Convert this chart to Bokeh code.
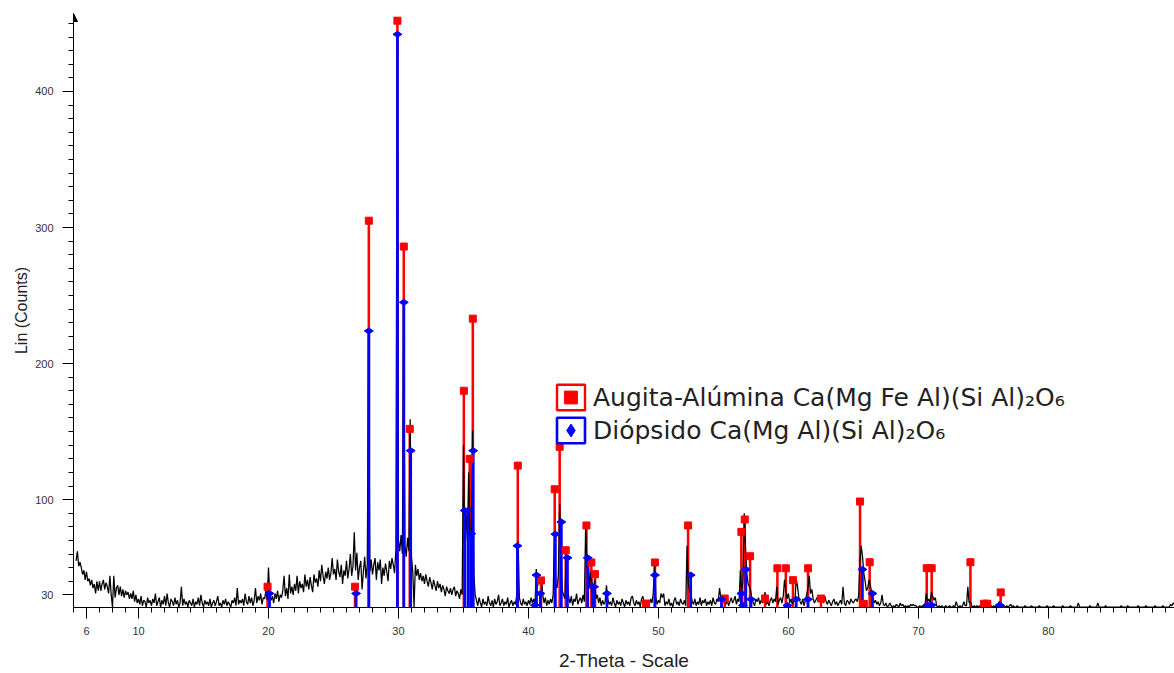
import numpy as np
from bokeh.plotting import figure
from bokeh.models import (Range1d, FixedTicker, Legend, LegendItem,
                          ColumnDataSource, Arrow, NormalHead)
from bokeh.embed import file_html
from bokeh.resources import INLINE

# ---------------- data ----------------
# measured diffractogram: 2-theta grid starts at 5.2 deg, step 0.1 deg
TT_START = 5.2
TT_STEP = 0.1
pattern_counts = [
    55, 62, 51, 54, 50, 45, 48, 41,                      # 5.2-5.9
    47, 40, 42, 37, 41, 35, 38, 31, 40, 33,              # 6
    40, 33, 38, 41, 34, 39, 36, 31, 44, 30,              # 7
    21, 44, 28, 35, 37, 30, 36, 29, 34, 28,              # 8
    33, 30, 32, 27, 31, 27, 33, 25, 30, 24,              # 9
    27, 23, 29, 22, 26, 25, 21, 28, 24, 26,              # 10
    22, 27, 24, 31, 22, 25, 28, 21, 26, 23,              # 11
    29, 22, 31, 24, 21, 27, 25, 22, 28, 23,              # 12
    26, 21, 24, 36, 22, 27, 23, 25, 21, 26,              # 13
    24, 22, 27, 21, 25, 23, 28, 22, 30, 24,              # 14
    21, 26, 23, 25, 22, 27, 21, 24, 26, 22,              # 15
    25, 29, 22, 24, 21, 26, 23, 27, 22, 25,              # 16
    23, 21, 26, 24, 28, 22, 35, 23, 26, 24,              # 17
    27, 22, 31, 25, 23, 29, 24, 28, 22, 26,              # 18
    35, 24, 29, 26, 31, 23, 28, 27, 33, 26,              # 19
    50, 30, 26, 29, 24, 31, 27, 33, 25, 30,              # 20
    28, 33, 44, 29, 35, 27, 45, 31, 36, 30,              # 21
    38, 33, 44, 31, 40, 35, 38, 32, 45, 36,              # 22
    41, 34, 43, 37, 32, 45, 39, 42, 36, 48,              # 23
    40, 52, 44, 38, 47, 42, 50, 41, 46, 57,              # 24
    45, 49, 41, 56, 47, 43, 52, 38, 48, 44,              # 25
    55, 42, 49, 60, 44, 51, 76, 48, 61, 41,              # 26
    50, 55, 34, 47, 58, 42, 52, 220, 47, 56,             # 27
    45, 52, 57, 41, 54, 48, 56, 38, 50, 44,              # 28
    53, 47, 40, 55, 49, 57, 52, 46, 63, 440,             # 29
    70, 62, 74, 60, 242, 66, 58, 72, 62, 159,            # 30
    58, 47, 21, 52, 44, 49, 41, 46, 40, 44,              # 31
    38, 45, 40, 36, 43, 39, 34, 41, 37, 33,              # 32
    40, 35, 38, 32, 37, 34, 29, 36, 33, 31,              # 33
    35, 30, 34, 36, 29, 33, 31, 27, 34, 30,              # 34
    140, 62, 90, 70, 120, 72, 75, 151, 45, 30,           # 35
    26, 22, 28, 24, 21, 27, 23, 25, 22, 29,              # 36
    24, 22, 26, 21, 27, 23, 25, 30, 22, 24,              # 37
    27, 22, 25, 23, 28, 21, 24, 26, 22, 25,              # 38
    23, 30, 69, 28, 24, 22, 27, 23, 25, 22,              # 39
    26, 23, 28, 24, 27, 22, 49, 36, 43, 40,              # 40
    42, 30, 24, 28, 22, 26, 23, 27, 24, 30,              # 41
    77, 38, 35, 45, 97, 60, 33, 30, 27, 60,              # 42
    38, 28, 24, 29, 22, 27, 25, 31, 23, 26,              # 43
    28, 24, 30, 25, 81, 50, 58, 36, 47, 38,              # 44
    33, 41, 27, 30, 24, 28, 22, 26, 23, 25,              # 45
    37, 27, 23, 25, 22, 28, 24, 21, 26, 23,              # 46
    25, 22, 27, 24, 21, 26, 23, 25, 22, 28,              # 47
    29, 24, 22, 26, 23, 25, 21, 27, 29, 24,              # 48
    26, 22, 25, 23, 27, 24, 31, 55, 28, 23,              # 49
    26, 24, 31, 28, 31, 22, 25, 23, 27, 22,              # 50
    24, 21, 26, 28, 23, 25, 22, 27, 24, 23,              # 51
    26, 22, 66, 38, 33, 30, 25, 23, 27, 22,              # 52
    25, 23, 28, 22, 26, 24, 27, 22, 25, 23,              # 53
    26, 22, 28, 24, 23, 27, 25, 35, 28, 24,              # 54
    27, 29, 23, 26, 22, 25, 28, 24, 26, 29,              # 55
    23, 27, 25, 48, 31, 41, 90, 65, 45, 38,              # 56
    36, 33, 26, 24, 22, 27, 25, 28, 23, 26,              # 57
    24, 27, 32, 23, 25, 22, 26, 28, 24, 27,              # 58
    25, 36, 23, 26, 28, 24, 29, 41, 33, 27,              # 59
    31, 24, 27, 23, 26, 25, 42, 36, 28, 25,              # 60
    23, 27, 22, 26, 30, 35, 44, 31, 34, 27,              # 61
    24, 26, 28, 25, 29, 26, 28, 24, 29, 25,              # 62
    23, 26, 24, 22, 25, 27, 23, 25, 22, 24,              # 63
    26, 23, 36, 24, 22, 26, 25, 23, 27, 25,              # 64
    24, 26, 27, 25, 29, 55, 66, 58, 46, 40,              # 65
    33, 35, 41, 37, 32, 28, 24, 26, 23, 25,              # 66
    22, 24, 30, 23, 22, 24, 21, 22, 24, 22,              # 67
    21, 22, 21, 23, 22, 21, 24, 22, 23, 21,              # 68
    22, 21, 22, 21, 23, 22, 23, 22, 22, 21,              # 69
    21, 22, 21, 22, 21, 22, 31, 25, 27, 24,              # 70
    32, 29, 26, 28, 22, 21, 22, 21, 22, 21,              # 71
    21, 22, 21, 21, 22, 21, 21, 22, 21, 25,              # 72
    22, 21, 22, 21, 22, 25, 22, 22, 36, 24,              # 73
    25, 22, 21, 22, 21, 22, 21, 22, 21, 25,              # 74
    23, 25, 24, 25, 22, 21, 22, 21, 22, 21,              # 75
    22, 21, 25, 24, 22, 21, 22, 21, 22, 21,              # 76
    22, 23, 21, 22, 21, 21, 22, 21, 21, 21,              # 77
    21, 21, 22, 21, 21, 21, 21, 22, 21, 21,              # 78
    21, 21, 21, 22, 21, 21, 21, 21, 21, 22,              # 79
    21, 21, 21, 21, 22, 21, 21, 21, 21, 21,              # 80
    21, 22, 21, 21, 21, 21, 21, 22, 21, 21,              # 81
    21, 21, 21, 24, 21, 21, 21, 21, 21, 21,              # 82
    21, 21, 22, 21, 21, 21, 21, 21, 24, 21,              # 83
    21, 21, 21, 21, 22, 21, 21, 21, 21, 21,              # 84
    21, 21, 21, 21, 21, 21, 22, 21, 21, 21,              # 85
    21, 22, 21, 21, 21, 21, 21, 21, 21, 22,              # 86
    21, 21, 21, 21, 21, 22, 21, 21, 21, 21,              # 87
    21, 21, 22, 21, 21, 21, 21, 21, 22, 21,              # 88
    21, 21, 21, 21, 23, 22, 24, 23, 22, 23,              # 89
]

# stick pattern: Augita-Alúmina (red squares)
augite_2theta = [19.93, 26.66, 27.72, 29.92, 30.41, 30.87, 35.03, 35.48, 35.72,
                 39.18, 40.97, 42.02, 42.40, 42.87, 44.46, 44.84, 45.12, 49.05,
                 49.73, 52.28, 55.10, 56.38, 56.64, 57.05, 58.20, 59.15, 59.80,
                 60.35, 61.51, 62.50, 65.51, 65.80, 66.25, 70.64, 71.02, 74.00,
                 75.05, 75.30, 76.33]
augite_counts = [36, 36, 305, 452, 286, 152, 180, 130, 233,
                 125, 40.6, 107.6, 138.8, 62.8, 81, 53.8, 45.2, 23.6,
                 53.8, 81, 27.3, 76.3, 85.4, 58.4, 27.3, 49.5, 49.5,
                 40.8, 49.5, 27.3, 98.6, 23.3, 54, 49.6, 49.6, 54,
                 23.5, 23.5, 31.8]

# stick pattern: Diópsido (blue diamonds)
diopside_2theta = [20.08, 26.74, 27.72, 29.92, 30.41, 30.94, 35.10, 35.35, 35.60,
                   35.75, 39.15, 40.50, 40.62, 40.92, 42.07, 42.53, 43.00, 44.56,
                   44.92, 45.05, 46.04, 49.73, 52.48, 54.85, 56.38, 56.50, 56.72,
                   57.12, 59.92, 60.60, 61.50, 65.69, 66.46, 70.69, 71.02, 76.25]
diopside_counts = [31, 31, 224, 442, 245, 136, 92, 92, 75,
                   136, 66, 22.4, 44.5, 31, 74.6, 83.6, 57.2, 57.2,
                   35.9, 35.9, 31, 44.5, 44.5, 26.7, 31, 22.2, 48.7,
                   26.7, 22.2, 26.7, 26.7, 48.7, 31, 22.5, 22.5, 22.5]

x_tick_values = [6, 10, 20, 30, 40, 50, 60, 70, 80, 90]
y_tick_values = [30, 100, 200, 300, 400]

legend_labels = ["Augita-Alúmina Ca(Mg Fe Al)(Si Al)₂O₆",
                 "Diópsido Ca(Mg Al)(Si Al)₂O₆"]

X_MIN, X_MAX = 5.0, 89.7
Y_MIN, Y_MAX = 20.7, 457.3

# ---------------- figure ----------------
p = figure(width=1174, height=673, output_backend="svg", toolbar_location=None,
           x_range=Range1d(X_MIN, X_MAX), y_range=Range1d(Y_MIN, Y_MAX),
           min_border_left=73, min_border_right=0, min_border_top=13,
           min_border_bottom=66)
p.outline_line_color = None
p.xgrid.visible = False
p.ygrid.visible = False
p.background_fill_color = "white"
p.border_fill_color = "white"

tt = TT_START + TT_STEP * np.arange(len(pattern_counts))
src_pattern = ColumnDataSource(dict(x=tt, y=pattern_counts))
src_aug = ColumnDataSource(dict(x=augite_2theta, y=augite_counts))
src_dio = ColumnDataSource(dict(x=diopside_2theta, y=diopside_counts))

aug_stems = p.vbar(x="x", top="y", bottom=0, width=0.012, source=src_aug,
                   fill_alpha=0, line_color="#ff0000", line_width=2.4)
p.line(x="x", y="y", source=src_pattern, line_color="black", line_width=1.25)
dio_stems = p.vbar(x="x", top="y", bottom=0, width=0.012, source=src_dio,
                   fill_alpha=0, line_color="#0000ff", line_width=2.6)
aug_marks = p.scatter(x="x", y="y", source=src_aug, marker="square", size=7,
                      fill_color="#ff0000", line_color="#ff0000")
dio_marks = p.scatter(x="x", y="y", source=src_dio, marker="diamond", size=9,
                      angle=np.pi / 2, fill_color="#0000ff", line_color="#0000ff")

# axes
for ax in (p.xaxis[0], p.yaxis[0]):
    ax.axis_line_color = "black"
    ax.axis_line_width = 1
    ax.major_tick_line_color = "black"
    ax.minor_tick_line_color = "black"
    ax.major_tick_out = 11
    ax.major_tick_in = 0
    ax.minor_tick_out = 5
    ax.minor_tick_in = 0
    ax.major_label_text_font = "Liberation Sans"
    ax.major_label_text_font_size = "11px"
    ax.major_label_text_color = "#333333"
    ax.axis_label_text_font = "Liberation Sans"
    ax.axis_label_text_font_style = "normal"
    ax.axis_label_text_color = "#222222"

p.xaxis.ticker = FixedTicker(ticks=x_tick_values, minor_ticks=list(range(5, 91)))
p.yaxis.ticker = FixedTicker(ticks=y_tick_values, minor_ticks=list(range(30, 460, 10)))
p.xaxis.axis_label = "2-Theta - Scale"
p.xaxis.axis_label_text_font_size = "19px"
p.xaxis.major_label_standoff = 8
p.xaxis.axis_label_standoff = 12
p.yaxis.axis_label = "Lin (Counts)"
p.yaxis.axis_label_text_font_size = "16px"
p.yaxis.major_label_standoff = 9
p.yaxis.axis_label_standoff = 2

# arrow head at top of the y axis
p.add_layout(Arrow(end=NormalHead(size=8, line_color="black", fill_color="black"),
                   x_start=X_MIN, y_start=Y_MAX - 4, x_end=X_MIN, y_end=Y_MAX,
                   line_color="black", line_width=1))

legend = Legend(items=[LegendItem(label=legend_labels[0], renderers=[aug_stems, aug_marks]),
                       LegendItem(label=legend_labels[1], renderers=[dio_stems, dio_marks])],
                location=(480, 161), orientation="vertical",
                glyph_width=35, glyph_height=32, spacing=1, padding=0, margin=0,
                label_standoff=5, label_text_font="DejaVu Sans",
                label_text_font_size="25px", label_text_color="#222222",
                border_line_alpha=0, background_fill_alpha=0)
p.add_layout(legend, "center")

open("out.html", "w").write(file_html(p, INLINE))
